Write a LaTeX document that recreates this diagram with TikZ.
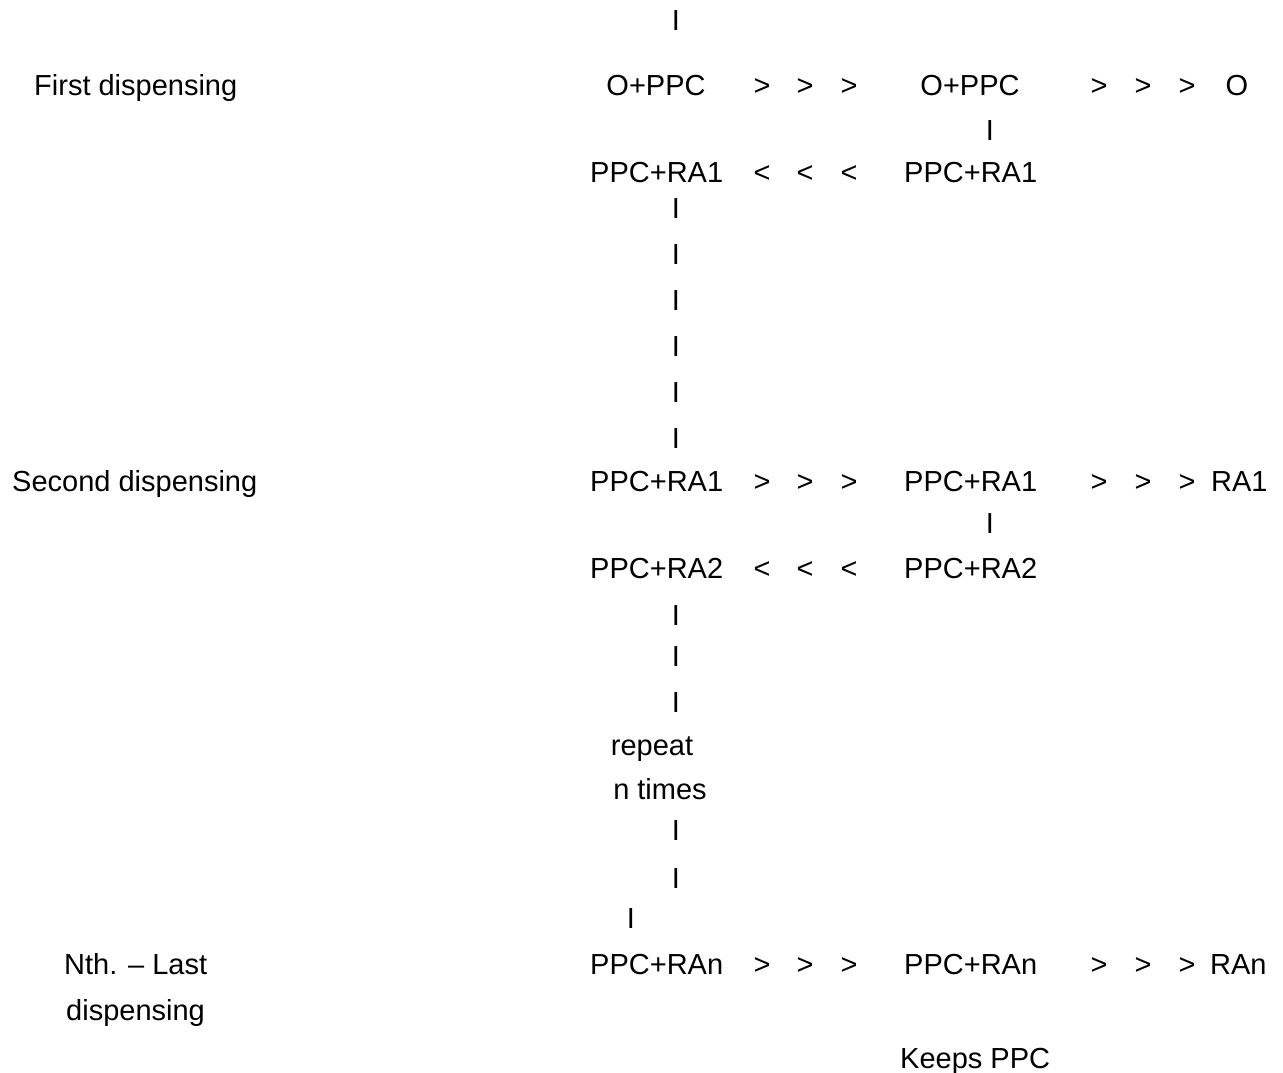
\documentclass[tikz,border=0pt]{standalone}
\usepackage{fontspec}
\setmainfont{Liberation Sans}
\begin{document}
\begin{tikzpicture}[x=1pt,y=-1pt,
  txt/.style={inner sep=0pt, font=\fontsize{29}{34}\selectfont, anchor=base west},
  sym/.style={inner sep=0pt, font=\fontsize{29}{34}\selectfont, anchor=base}]
\useasboundingbox (0,0) rectangle (1283,1072);
% top bar
\node[sym] (b0) at (676,30) {I};
% first dispensing
\node[txt] (l1) at (34,95) {First dispensing};
\node[sym] (a1) at (656,95) {O+PPC};
\node[sym] (g11) at (762,95) {>};
\node[sym] (g12) at (805,95) {>};
\node[sym] (g13) at (849,95) {>};
\node[sym] (a2) at (970,95) {O+PPC};
\node[sym] (g14) at (1099,95) {>};
\node[sym] (g15) at (1143,95) {>};
\node[sym] (g16) at (1187,95) {>};
\node[sym] (a3) at (1237,95) {O};
\node[sym] (b1) at (990,140) {I};
\node[txt] (c1) at (590,182) {PPC+RA1};
\node[sym] (k11) at (762,182) {<};
\node[sym] (k12) at (805,182) {<};
\node[sym] (k13) at (849,182) {<};
\node[txt] (c2) at (904,182) {PPC+RA1};
\foreach \y [count=\i] in {218,264,310,356,402,448}
  \node[sym] (v\i) at (676,\y) {I};
% second dispensing
\node[txt] (l2) at (12,491) {Second dispensing};
\node[txt] (d1) at (590,491) {PPC+RA1};
\node[sym] (g21) at (762,491) {>};
\node[sym] (g22) at (805,491) {>};
\node[sym] (g23) at (849,491) {>};
\node[txt] (d2) at (904,491) {PPC+RA1};
\node[sym] (g24) at (1099,491) {>};
\node[sym] (g25) at (1143,491) {>};
\node[sym] (g26) at (1187,491) {>};
\node[txt] (d3) at (1211,491) {RA1};
\node[sym] (b2) at (990,533) {I};
\node[txt] (e1) at (590,578) {PPC+RA2};
\node[sym] (k21) at (762,578) {<};
\node[sym] (k22) at (805,578) {<};
\node[sym] (k23) at (849,578) {<};
\node[txt] (e2) at (904,578) {PPC+RA2};
\foreach \y [count=\i] in {625,666,712}
  \node[sym] (w\i) at (676,\y) {I};
\node[sym] (r1) at (652,755) {repeat};
\node[sym] (r2) at (660,799) {n times};
\node[sym] (u1) at (676,840) {I};
\node[sym] (u2) at (676,888) {I};
\node[sym] (u3) at (631,928) {I};
% last dispensing
\node[txt] (l3) at (64,974) {Nth. – Last};
\node[txt] (l4) at (66,1020) {dispensing};
\node[txt] (f1) at (590,974) {PPC+RAn};
\node[sym] (g31) at (762,974) {>};
\node[sym] (g32) at (805,974) {>};
\node[sym] (g33) at (849,974) {>};
\node[txt] (f2) at (904,974) {PPC+RAn};
\node[sym] (g34) at (1099,974) {>};
\node[sym] (g35) at (1143,974) {>};
\node[sym] (g36) at (1187,974) {>};
\node[txt] (f3) at (1210,974) {RAn};
\node[txt] (kp) at (900,1068) {Keeps PPC};
\end{tikzpicture}
\end{document}
